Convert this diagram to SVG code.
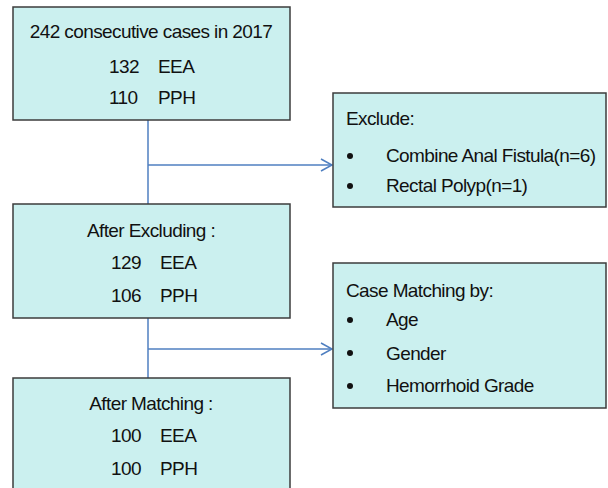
<svg xmlns="http://www.w3.org/2000/svg" width="608" height="488" viewBox="0 0 608 488">
<defs>
<style>
.box{fill:#cbf0ef;stroke:#3c3c3c;stroke-width:1.5}
text{font-family:"Liberation Sans",Arial,sans-serif;font-size:19px;fill:#111;letter-spacing:-0.6px}
.c{text-anchor:middle}
.ln{stroke:#4f7fc0;stroke-width:1.5;fill:none}
</style>
<marker id="ar" markerWidth="14" markerHeight="14" refX="12" refY="7" orient="auto" markerUnits="userSpaceOnUse">
<path d="M1,1 L12,7 L1,13" fill="none" stroke="#4f7fc0" stroke-width="1.5"/>
</marker>
</defs>
<g id="connectors">
<line class="ln" x1="148" y1="120" x2="148" y2="204"/>
<line class="ln" x1="148" y1="165" x2="332" y2="165" marker-end="url(#ar)"/>
<line class="ln" x1="148" y1="318" x2="148" y2="378"/>
<line class="ln" x1="148" y1="349" x2="332" y2="349" marker-end="url(#ar)"/>
</g>
<g id="start">
<rect class="box" x="13" y="7" width="277" height="113"/>
<text class="c" x="151" y="38">242 consecutive cases in 2017</text>
<text x="109" y="73">132</text><text x="158" y="73">EEA</text>
<text x="109" y="104">110</text><text x="158" y="104">PPH</text>
</g>
<g id="exclude">
<rect class="box" x="333" y="93" width="273" height="114"/>
<text x="346" y="125">Exclude:</text>
<circle cx="350" cy="156" r="3" fill="#111"/>
<text x="386" y="162">Combine Anal Fistula(n=6)</text>
<circle cx="350" cy="186" r="3" fill="#111"/>
<text x="386" y="192">Rectal Polyp(n=1)</text>
</g>
<g id="after-excluding">
<rect class="box" x="13" y="204" width="277" height="114"/>
<text class="c" x="151" y="237">After Excluding :</text>
<text x="111" y="269">129</text><text x="160" y="269">EEA</text>
<text x="111" y="302">106</text><text x="160" y="302">PPH</text>
</g>
<g id="matching">
<rect class="box" x="333" y="263" width="273" height="145"/>
<text x="346" y="297">Case Matching by:</text>
<circle cx="350" cy="320" r="3" fill="#111"/>
<text x="386" y="326">Age</text>
<circle cx="350" cy="353" r="3" fill="#111"/>
<text x="386" y="360">Gender</text>
<circle cx="350" cy="386" r="3" fill="#111"/>
<text x="386" y="392">Hemorrhoid Grade</text>
</g>
<g id="after-matching">
<rect class="box" x="13" y="378" width="277" height="120"/>
<text class="c" x="151" y="410">After Matching :</text>
<text x="111" y="442">100</text><text x="160" y="442">EEA</text>
<text x="111" y="475">100</text><text x="160" y="475">PPH</text>
</g>
</svg>
